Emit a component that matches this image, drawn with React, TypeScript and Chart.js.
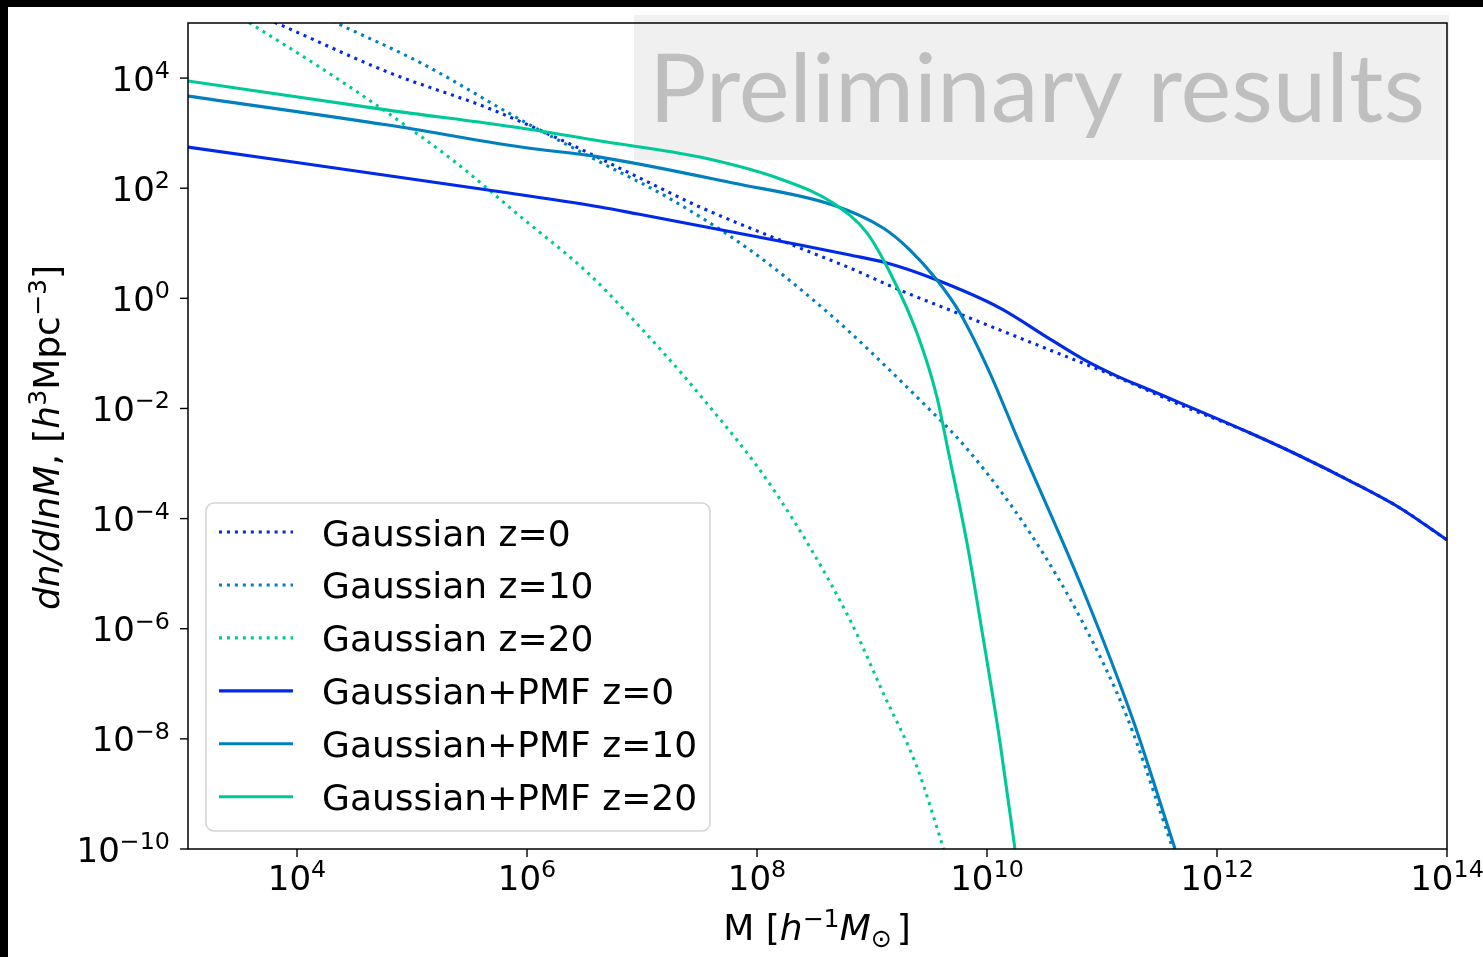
import React, { useEffect, useRef } from 'react';
import { Chart, registerables } from 'chart.js';

Chart.register(...registerables);

const W = 1483;
const H = 957;

// Axis ranges
const X_MIN = 1.127e3;
const X_MAX = 1e14;
const Y_MIN = 1e-10;
const Y_MAX = 1e5;

// Tick exponents (labels are 10^e)
const xTickExponents = [4, 6, 8, 10, 12, 14];
const yTickExponents = [4, 2, 0, -2, -4, -6, -8, -10];

const seriesLabels = [
  'Gaussian z=0',
  'Gaussian z=10',
  'Gaussian z=20',
  'Gaussian+PMF z=0',
  'Gaussian+PMF z=10',
  'Gaussian+PMF z=20',
];
const seriesColors = ['#0029e8', '#0080bf', '#00c999', '#0029e8', '#0080bf', '#00c999'];
const seriesDotted = [true, true, true, false, false, false];

// Gaussian z=0
const gaussZ0Mass = [4.76e3, 7.26e3, 6.18e4, 4.58e5, 1.75e6, 9.23e6, 3.19e7, 2.37e8, 6.44e8, 1.75e9, 4.76e9, 3.53e10, 1.35e11, 5.06e11, 1.94e12, 5.27e12, 1.44e13, 3.9e13, 1e14];
const gaussZ0 = [1.34e5, 9.16e4, 1.28e4, 2.85e3, 849, 159, 45.5, 8.18, 3.55, 1.41, 0.612, 0.115, 0.0372, 0.0111, 3.58e-3, 1.37e-3, 4.81e-4, 1.56e-4, 4.08e-5];

// Gaussian z=10
const gaussZ10Mass = [1.52e4, 2.41e4, 1.2e5, 8.87e5, 4.32e6, 1.65e7, 8.69e7, 4.58e8, 2.46e9, 6.84e9, 2.37e10, 6.84e10, 1.65e11, 4.14e11];
const gaussZ10 = [1.45e5, 9.16e4, 1.87e4, 1.73e3, 298, 69.0, 7.53, 0.457, 0.0161, 1.76e-3, 5.47e-5, 1.27e-6, 2.49e-8, 1e-10];

// Gaussian z=20
const gaussZ20Mass = [2.56e3, 4.14e3, 1.62e4, 6.18e4, 2.37e5, 8.87e5, 3.39e6, 7.55e6, 3.19e7, 1.44e8, 6.44e8, 1.25e9, 2.46e9, 4.2e9];
const gaussZ20 = [1.72e5, 9.16e4, 1.52e4, 2.31e3, 299, 29.9, 2.88, 0.519, 0.0175, 3.03e-4, 1.44e-6, 6.79e-8, 3.08e-9, 1e-10];

// Gaussian+PMF z=0
const pmfZ0Mass = [1.127e3, 4.58e5, 4.32e6, 9.23e6, 2.37e8, 6.44e8, 1.35e9, 3.67e9, 1.3e10, 3.53e10, 6.84e10, 1.35e11, 2.61e11, 1.94e12, 5.27e12, 1.44e13, 3.9e13, 1e14];
const pmfZ0 = [558, 92.5, 45.5, 33.9, 9.27, 6.11, 4.38, 2.15, 0.665, 0.182, 0.0789, 0.0388, 0.0216, 3.58e-3, 1.37e-3, 4.81e-4, 1.56e-4, 4.08e-5];

// Gaussian+PMF z=10
const pmfZ10Mass = [1.127e3, 6.18e4, 8.87e5, 4.32e6, 6.18e7, 4.58e8, 1.25e9, 2.14e9, 3.67e9, 5.82e9, 1.06e10, 1.82e10, 6.84e10, 1.86e11, 4.32e11];
const pmfZ10 = [4.71e3, 1.4e3, 558, 367, 124, 49.4, 18.9, 7.53, 2.15, 0.541, 0.044, 3.03e-3, 5.05e-6, 2.2e-8, 1e-10];

// Gaussian+PMF z=20
const pmfZ20Mass = [1.127e3, 6.18e4, 8.87e5, 4.32e6, 3.19e7, 1.68e8, 4.58e8, 9.06e8, 1.44e9, 2.46e9, 3.67e9, 4.58e9, 6.7e9, 9.23e9, 1.3e10, 1.75e10];
const pmfZ20 = [8.83e3, 2.62e3, 1.24e3, 718, 367, 141, 53.7, 15.3, 2.88, 0.234, 0.0161, 1.76e-3, 3.6e-5, 7.06e-7, 8.39e-9, 1e-10];

const seriesMass = [gaussZ0Mass, gaussZ10Mass, gaussZ20Mass, pmfZ0Mass, pmfZ10Mass, pmfZ20Mass];
const seriesValues = [gaussZ0, gaussZ10, gaussZ20, pmfZ0, pmfZ10, pmfZ20];

const FONT = '"DejaVu Sans"';
const LINE_W = 3.1;
const DOT_DASH = [3, 4.95];

type Seg = { t: string; it?: boolean; sup?: boolean; sub?: boolean };

function segFont(s: Seg, size: number) {
  const sz = s.sup || s.sub ? size * 0.7 : size;
  return `${s.it ? 'italic ' : ''}${sz}px ${FONT}`;
}

function richWidth(ctx: CanvasRenderingContext2D, segs: Seg[], size: number) {
  let w = 0;
  for (const s of segs) {
    ctx.font = segFont(s, size);
    w += ctx.measureText(s.t).width;
  }
  return w;
}

function drawRich(
  ctx: CanvasRenderingContext2D,
  segs: Seg[],
  x: number,
  y: number,
  size: number,
  align: 'left' | 'center' | 'right'
) {
  const w = richWidth(ctx, segs, size);
  let cx = align === 'left' ? x : align === 'center' ? x - w / 2 : x - w;
  ctx.textAlign = 'left';
  ctx.textBaseline = 'alphabetic';
  for (const s of segs) {
    ctx.font = segFont(s, size);
    const dy = s.sup ? -size * 0.37 : s.sub ? size * 0.2 : 0;
    ctx.fillText(s.t, cx, y + dy);
    cx += ctx.measureText(s.t).width;
  }
}

function expSegs(e: number): Seg[] {
  const es = e < 0 ? '\u2212' + String(-e) : String(e);
  return [{ t: '10' }, { t: es, sup: true }];
}

const mplPlugin = {
  id: 'mplDecor',
  beforeDraw(chart: any) {
    const ctx: CanvasRenderingContext2D = chart.ctx;
    ctx.save();
    ctx.fillStyle = '#ffffff';
    ctx.fillRect(0, 0, W, H);
    ctx.fillStyle = '#000000';
    ctx.fillRect(0, 0, W, 7);
    ctx.fillRect(0, 0, 8, H);
    // Preliminary results box
    ctx.fillStyle = '#f0f0f0';
    ctx.fillRect(634, 15, 1449 - 634, 160 - 15);
    const text = 'Preliminary results';
    ctx.font = `100px Lato, "Open Sans", sans-serif`;
    const a = ctx.measureText('l').actualBoundingBoxAscent || 72;
    const size = (100 * 70) / a;
    ctx.font = `${size}px Lato, "Open Sans", sans-serif`;
    const m = ctx.measureText(text);
    const inkW = m.actualBoundingBoxLeft + m.actualBoundingBoxRight;
    const sx = (1422 - 657) / inkW;
    ctx.fillStyle = '#bfbfbf';
    ctx.textAlign = 'left';
    ctx.textBaseline = 'alphabetic';
    ctx.translate(657, 121.7);
    ctx.scale(sx, 1);
    ctx.fillText(text, m.actualBoundingBoxLeft, 0);
    ctx.restore();
  },
  afterDatasetsDraw(chart: any) {
    const ctx: CanvasRenderingContext2D = chart.ctx;
    const area = chart.chartArea;
    const xs = chart.scales.x;
    const ys = chart.scales.y;
    ctx.save();
    // frame
    ctx.strokeStyle = '#000000';
    ctx.lineWidth = 1.5;
    ctx.setLineDash([]);
    ctx.strokeRect(area.left, area.top, area.right - area.left, area.bottom - area.top);
    // ticks
    ctx.lineWidth = 1.4;
    ctx.fillStyle = '#000000';
    const tickFont = 34;
    for (const e of xTickExponents) {
      const px = xs.getPixelForValue(Math.pow(10, e));
      ctx.beginPath();
      ctx.moveTo(px, area.bottom);
      ctx.lineTo(px, area.bottom + 8);
      ctx.stroke();
      drawRich(ctx, expSegs(e), px, 890, tickFont, 'center');
    }
    for (const e of yTickExponents) {
      const py = ys.getPixelForValue(Math.pow(10, e));
      ctx.beginPath();
      ctx.moveTo(area.left - 8, py);
      ctx.lineTo(area.left, py);
      ctx.stroke();
      drawRich(ctx, expSegs(e), 170, py + 12.5, tickFont, 'right');
    }
    // axis labels
    const labelFont = 36;
    drawRich(
      ctx,
      [
        { t: 'M [' },
        { t: 'h', it: true },
        { t: '\u22121', sup: true },
        { t: 'M', it: true },
        { t: '\u2299\u2009', sub: true },
        { t: ']' },
      ],
      817,
      940,
      labelFont,
      'center'
    );
    ctx.save();
    ctx.translate(59, 437.5);
    ctx.rotate(-Math.PI / 2);
    drawRich(
      ctx,
      [
        { t: 'dn/dlnM', it: true },
        { t: ', [' },
        { t: 'h', it: true },
        { t: '3', sup: true },
        { t: 'Mpc' },
        { t: '\u22123', sup: true },
        { t: ']' },
      ],
      0,
      0,
      labelFont,
      'center'
    );
    ctx.restore();

    // legend
    const lx = 206, ly = 503, lw = 710 - 206, lh = 831 - 503;
    ctx.beginPath();
    (ctx as any).roundRect(lx, ly, lw, lh, 8);
    ctx.fillStyle = 'rgba(255,255,255,0.85)';
    ctx.fill();
    ctx.strokeStyle = '#d6d6d6';
    ctx.lineWidth = 1.6;
    ctx.stroke();
    for (let i = 0; i < seriesLabels.length; i++) {
      const y = 532 + 52.95 * i;
      ctx.beginPath();
      ctx.strokeStyle = seriesColors[i];
      ctx.lineWidth = LINE_W;
      ctx.lineCap = 'butt';
      ctx.setLineDash(seriesDotted[i] ? DOT_DASH : []);
      ctx.moveTo(219, y);
      ctx.lineTo(293, y);
      ctx.stroke();
      ctx.setLineDash([]);
      ctx.fillStyle = '#000000';
      ctx.font = `36px ${FONT}`;
      ctx.textAlign = 'left';
      ctx.textBaseline = 'alphabetic';
      ctx.fillText(seriesLabels[i], 322, y + 13.5);
    }
    ctx.restore();
  },
};

export default function App() {
  const canvasRef = useRef<HTMLCanvasElement | null>(null);

  useEffect(() => {
    document.body.style.margin = '0';
    const canvas = canvasRef.current;
    if (!canvas) return;
    const chart = new Chart(canvas, {
      type: 'line',
      data: {
        datasets: seriesLabels.map((label, i) => ({
          label,
          data: seriesMass[i].map((m, j) => ({ x: m, y: seriesValues[i][j] })),
          borderColor: seriesColors[i],
          backgroundColor: seriesColors[i],
          borderWidth: LINE_W,
          borderDash: seriesDotted[i] ? DOT_DASH : [],
          borderCapStyle: 'butt',
          pointRadius: 0,
          fill: false,
          cubicInterpolationMode: 'monotone',
          clip: 0,
          order: 5 - i,
        })) as any,
      },
      options: {
        responsive: false,
        animation: false,
        devicePixelRatio: 1,
        events: [],
        layout: { padding: { left: 188, right: W - 1447, top: 23, bottom: H - 849 } },
        scales: {
          x: { type: 'logarithmic', min: X_MIN, max: X_MAX, display: false },
          y: { type: 'logarithmic', min: Y_MIN, max: Y_MAX, display: false },
        },
        plugins: {
          legend: { display: false },
          tooltip: { enabled: false },
          title: { display: false },
        },
      } as any,
      plugins: [mplPlugin as any],
    });
    return () => chart.destroy();
  }, []);

  return (
    <div style={{ position: 'fixed', left: 0, top: 0, width: W, height: H }}>
      <canvas ref={canvasRef} width={W} height={H} style={{ width: W, height: H, display: 'block' }} />
    </div>
  );
}
